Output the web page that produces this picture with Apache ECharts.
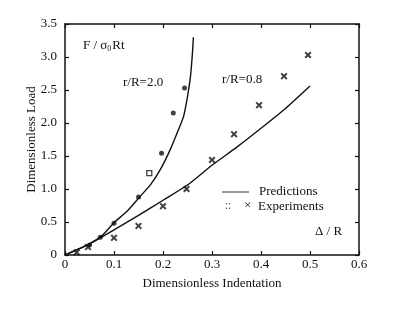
<!DOCTYPE html>
<html><head><meta charset="utf-8">
<script src="https://cdn.jsdelivr.net/npm/echarts@6/dist/echarts.min.js"></script>
<style>html,body{margin:0;padding:0;background:#fff}#c{width:400px;height:330px}</style>
</head><body><div id="c"></div>
<script>
var xTicks = [0, 0.1, 0.2, 0.3, 0.4, 0.5, 0.6];
var yTicks = [0, 0.5, 1.0, 1.5, 2.0, 2.5, 3.0, 3.5];
var predR20 = [[0,0],[0.025,0.08],[0.05,0.17],[0.075,0.29],[0.1,0.49],[0.125,0.65],[0.15,0.86],[0.175,1.07],[0.195,1.3],[0.215,1.6],[0.23,1.87],[0.242,2.1],[0.25,2.4],[0.256,2.7],[0.26,3.05],[0.262,3.3]];
var predR08 = [[0,0],[0.05,0.17],[0.075,0.27],[0.1,0.38],[0.15,0.6],[0.2,0.83],[0.25,1.06],[0.3,1.36],[0.35,1.63],[0.4,1.92],[0.45,2.22],[0.5,2.56]];
var expR20 = [[0.05,0.15],[0.072,0.27],[0.1,0.48],[0.15,0.88],[0.197,1.54],[0.221,2.15],[0.244,2.53]];
var expR20open = [[0.172,1.24]];
var expR08 = [[0.024,0.04],[0.047,0.12],[0.1,0.26],[0.15,0.44],[0.2,0.74],[0.248,1.0],[0.3,1.44],[0.345,1.83],[0.396,2.27],[0.447,2.71],[0.496,3.03]];

var FONT = 'Liberation Serif';
var chart = echarts.init(document.getElementById('c'));
function fmt(v){ return v === 0 ? '0' : v.toFixed(1); }
var crossPath = 'path://M0,2L2,0L5,3L8,0L10,2L7,5L10,8L8,10L5,7L2,10L0,8L3,5Z';
var axisLine = {show:true, onZero:false, lineStyle:{color:'#111', width:1.5}};
var tick = {inside:true, length:4, lineStyle:{color:'#111', width:1.2}};
chart.setOption({
  animation:false,
  grid:{left:65, right:41, top:24, bottom:75},
  xAxis:[{
    type:'value', min:0, max:0.6, interval:0.1, position:'bottom',
    name:'Dimensionless Indentation', nameLocation:'middle', nameGap:22, nameMoveOverlap:false,
    nameTextStyle:{fontFamily:FONT, fontSize:13, color:'#111'},
    axisLine:axisLine, axisTick:tick,
    axisLabel:{formatter:fmt, fontFamily:FONT, fontSize:13, color:'#111', margin:3},
    splitLine:{show:false}
  },{
    type:'value', min:0, max:0.6, interval:0.1, position:'top',
    axisLine:axisLine, axisTick:tick,
    axisLabel:{show:false}, splitLine:{show:false}
  }],
  yAxis:[{
    type:'value', min:0, max:3.5, interval:0.5, position:'left',
    name:'Dimensionless Load', nameLocation:'middle', nameGap:27, nameMoveOverlap:false,
    nameTextStyle:{fontFamily:FONT, fontSize:13, color:'#111'},
    axisLine:axisLine, axisTick:tick,
    axisLabel:{formatter:fmt, fontFamily:FONT, fontSize:13, color:'#111', margin:8},
    splitLine:{show:false}
  },{
    type:'value', min:0, max:3.5, interval:0.5, position:'right',
    axisLine:axisLine, axisTick:tick,
    axisLabel:{show:false}, splitLine:{show:false}
  }],
  series:[
    {type:'line', data:predR20, symbol:'none', lineStyle:{color:'#111', width:1.4}, smooth:0.2},
    {type:'line', data:predR08, symbol:'none', lineStyle:{color:'#111', width:1.4}, smooth:0.2},
    {type:'scatter', data:expR20, symbol:'circle', symbolSize:5, itemStyle:{color:'#111'}},
    {type:'scatter', data:expR20open, symbol:'rect', symbolSize:5, itemStyle:{color:'#fff', borderColor:'#111', borderWidth:1.3}},
    {type:'scatter', data:expR08, symbol:crossPath, symbolSize:7, itemStyle:{color:'#111'}}
  ],
  graphic:[
    {type:'text', left:83, top:39, style:{
      text:'{a|F / σ}{s|0}{a|Rt}',
      rich:{a:{fontFamily:FONT, fontSize:13, fill:'#111'}, s:{fontFamily:FONT, fontSize:8, fill:'#111', padding:[6,1,0,0]}}
    }},
    {type:'text', left:123, top:76, style:{text:'r/R=2.0', fontFamily:FONT, fontSize:13, fill:'#111'}},
    {type:'text', left:222, top:73, style:{text:'r/R=0.8', fontFamily:FONT, fontSize:13, fill:'#111'}},
    {type:'line', shape:{x1:222, y1:192, x2:249, y2:192}, style:{stroke:'#333', lineWidth:1}},
    {type:'text', left:259, top:185, style:{text:'Predictions', fontFamily:FONT, fontSize:13, fill:'#111'}},
    {type:'text', left:225, top:200, style:{text:':', fontFamily:FONT, fontSize:12, fill:'#555'}},
    {type:'text', left:228, top:200, style:{text:':', fontFamily:FONT, fontSize:12, fill:'#555'}},
    {type:'text', left:244, top:199, style:{text:'×', fontFamily:FONT, fontSize:13, fill:'#111'}},
    {type:'text', left:258, top:200, style:{text:'Experiments', fontFamily:FONT, fontSize:13, fill:'#111'}},
    {type:'text', left:315, top:225, style:{text:'Δ / R', fontFamily:FONT, fontSize:13, fill:'#111'}}
  ]
});
</script></body></html>
